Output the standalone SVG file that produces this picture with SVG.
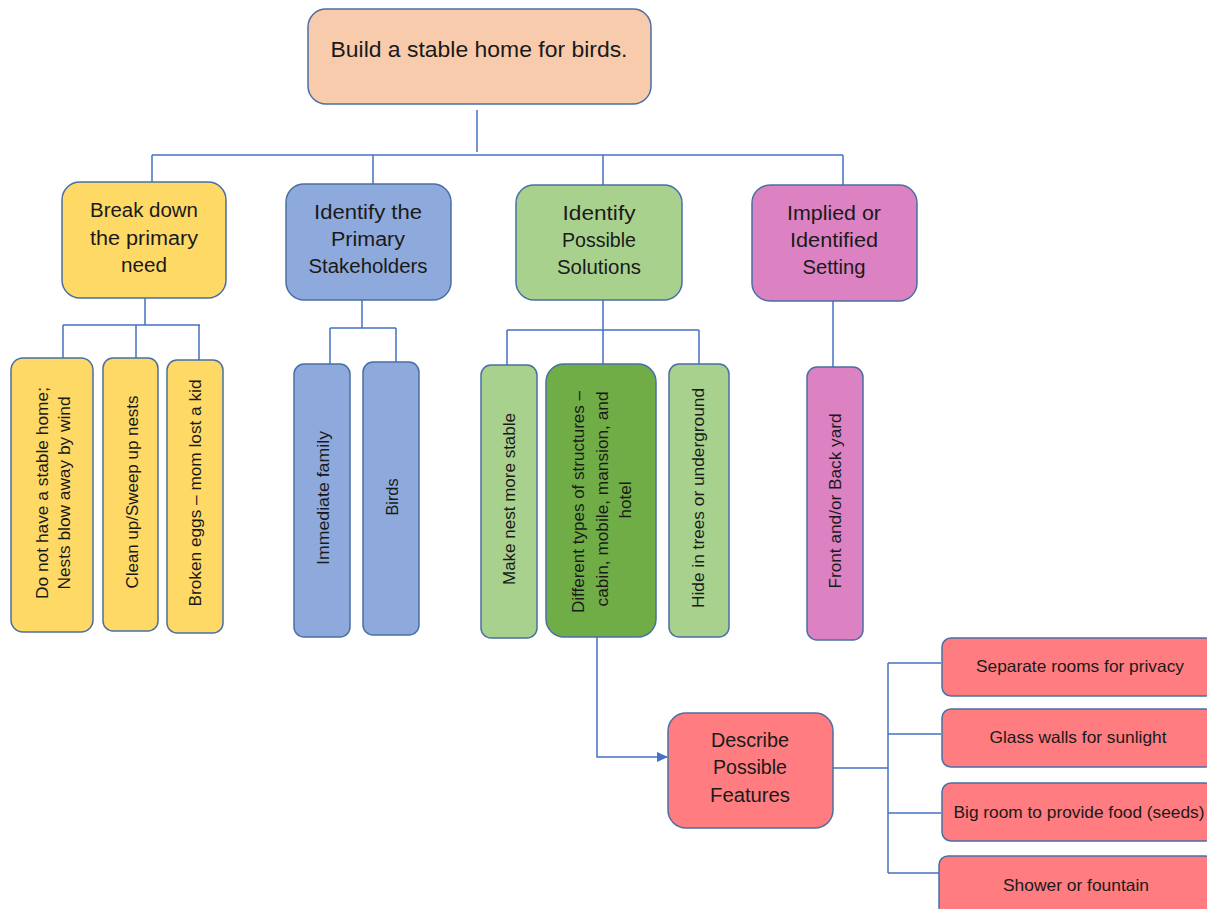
<svg xmlns="http://www.w3.org/2000/svg" width="1207" height="909" viewBox="0 0 1207 909">
<style>
text{font-family:"Liberation Sans",Arial,sans-serif;fill:#1a1a1a;text-anchor:middle}
.box{stroke:#4A6FA5;stroke-width:1.5}
.c{fill:none;stroke:#4472C4;stroke-width:1.5}
.t22{font-size:22px}
.t20{font-size:20px}
.t16{font-size:16.5px}
.t17{font-size:17px}
.r{dominant-baseline:central}
.peach{fill:#F8CBAD}.yel{fill:#FFD966}.blu{fill:#8EA9DB}.lgr{fill:#A9D18E}.dgr{fill:#70AD47}.pnk{fill:#DC82C2}.sal{fill:#FF7C80}
</style>
<defs>
<marker id="arr" markerWidth="11" markerHeight="10" refX="10" refY="5" orient="auto" markerUnits="userSpaceOnUse">
<path d="M0,0 L11,5 L0,10 z" fill="#4472C4"/>
</marker>
</defs>
<g id="connectors">
<path class="c" d="M477 110 V152"/>
<path class="c" d="M152 155 H843"/>
<path class="c" d="M152 155 V182 M373 155 V184 M603 155 V185 M843 155 V185"/>
<path class="c" d="M145 298 V325 M63 325 H200 M63 325 V358 M136 325 V358 M199 325 V360"/>
<path class="c" d="M362 300 V328 M330 328 H396 M330 328 V364 M396 328 V362"/>
<path class="c" d="M603 300 V330 M507 330 H699 M507 330 V365 M603 330 V364 M699 330 V364"/>
<path class="c" d="M833 301 V367"/>
<path class="c" d="M597 637 V757 H667" marker-end="url(#arr)"/>
<path class="c" d="M833 768 H888 M888 663 V873 M888 663 H941 M888 734 H941 M888 813 H941 M888 873 H939"/>
</g>
<g id="root">
<rect class="box peach" x="308" y="9" width="343" height="95" rx="18"/>
<text class="t22" x="479" y="57" textLength="297" lengthAdjust="spacingAndGlyphs">Build a stable home for birds.</text>
</g>
<g id="breakdown">
<rect class="box yel" x="62" y="182" width="164" height="116" rx="18"/>
<text class="t20" x="144" y="217" textLength="108" lengthAdjust="spacingAndGlyphs">Break down</text>
<text class="t20" x="144" y="245" textLength="108" lengthAdjust="spacingAndGlyphs">the primary</text>
<text class="t20" x="144" y="272" textLength="46" lengthAdjust="spacingAndGlyphs">need</text>
</g>
<g id="stakeholders">
<rect class="box blu" x="286" y="184" width="165" height="116" rx="18"/>
<text class="t20" x="368" y="219" textLength="108" lengthAdjust="spacingAndGlyphs">Identify the</text>
<text class="t20" x="368" y="246" textLength="74" lengthAdjust="spacingAndGlyphs">Primary</text>
<text class="t20" x="368" y="273" textLength="119" lengthAdjust="spacingAndGlyphs">Stakeholders</text>
</g>
<g id="solutions">
<rect class="box lgr" x="516" y="185" width="166" height="115" rx="18"/>
<text class="t20" x="599" y="220" textLength="73" lengthAdjust="spacingAndGlyphs">Identify</text>
<text class="t20" x="599" y="247" textLength="74" lengthAdjust="spacingAndGlyphs">Possible</text>
<text class="t20" x="599" y="274" textLength="84" lengthAdjust="spacingAndGlyphs">Solutions</text>
</g>
<g id="setting">
<rect class="box pnk" x="752" y="185" width="165" height="116" rx="18"/>
<text class="t20" x="834" y="220" textLength="94" lengthAdjust="spacingAndGlyphs">Implied or</text>
<text class="t20" x="834" y="247" textLength="88" lengthAdjust="spacingAndGlyphs">Identified</text>
<text class="t20" x="834" y="274" textLength="63" lengthAdjust="spacingAndGlyphs">Setting</text>
</g>
<g id="need1">
<rect class="box yel" x="11" y="358" width="82" height="274" rx="12"/>
<text class="t17 r" transform="translate(42,493) rotate(-90)" textLength="212" lengthAdjust="spacingAndGlyphs">Do not have a stable home;</text>
<text class="t17 r" transform="translate(64,493) rotate(-90)" textLength="193" lengthAdjust="spacingAndGlyphs">Nests blow away by wind</text>
</g>
<g id="need2">
<rect class="box yel" x="103" y="358" width="55" height="273" rx="10"/>
<text class="t17 r" transform="translate(132,492) rotate(-90)" textLength="193" lengthAdjust="spacingAndGlyphs">Clean up/Sweep up nests</text>
</g>
<g id="need3">
<rect class="box yel" x="167" y="360" width="56" height="273" rx="10"/>
<text class="t17 r" transform="translate(195,493) rotate(-90)" textLength="227" lengthAdjust="spacingAndGlyphs">Broken eggs – mom lost a kid</text>
</g>
<g id="family">
<rect class="box blu" x="294" y="364" width="56" height="273" rx="10"/>
<text class="t17 r" transform="translate(323,498) rotate(-90)" textLength="134" lengthAdjust="spacingAndGlyphs">Immediate family</text>
</g>
<g id="birds">
<rect class="box blu" x="363" y="362" width="56" height="273" rx="10"/>
<text class="t17 r" transform="translate(392,497) rotate(-90)" textLength="37" lengthAdjust="spacingAndGlyphs">Birds</text>
</g>
<g id="sol1">
<rect class="box lgr" x="481" y="365" width="56" height="273" rx="10"/>
<text class="t17 r" transform="translate(509,499) rotate(-90)" textLength="172" lengthAdjust="spacingAndGlyphs">Make nest more stable</text>
</g>
<g id="sol2">
<rect class="box dgr" x="546" y="364" width="110" height="273" rx="18"/>
<text class="t17 r" transform="translate(578,502) rotate(-90)" textLength="222" lengthAdjust="spacingAndGlyphs">Different types of structures –</text>
<text class="t17 r" transform="translate(602,499) rotate(-90)" textLength="215" lengthAdjust="spacingAndGlyphs">cabin, mobile, mansion, and</text>
<text class="t17 r" transform="translate(625,500) rotate(-90)" textLength="37" lengthAdjust="spacingAndGlyphs">hotel</text>
</g>
<g id="sol3">
<rect class="box lgr" x="669" y="364" width="60" height="273" rx="10"/>
<text class="t17 r" transform="translate(698,498) rotate(-90)" textLength="220" lengthAdjust="spacingAndGlyphs">Hide in trees or underground</text>
</g>
<g id="yard">
<rect class="box pnk" x="807" y="367" width="56" height="273" rx="10"/>
<text class="t17 r" transform="translate(835,501) rotate(-90)" textLength="175" lengthAdjust="spacingAndGlyphs">Front and/or Back yard</text>
</g>
<g id="features">
<rect class="box sal" x="668" y="713" width="165" height="115" rx="18"/>
<text class="t20" x="750" y="747" textLength="78" lengthAdjust="spacingAndGlyphs">Describe</text>
<text class="t20" x="750" y="774" textLength="74" lengthAdjust="spacingAndGlyphs">Possible</text>
<text class="t20" x="750" y="802" textLength="80" lengthAdjust="spacingAndGlyphs">Features</text>
</g>
<g id="f1">
<rect class="box sal" x="942" y="638" width="272" height="58" rx="9"/>
<text class="t16" x="1080" y="672" textLength="208" lengthAdjust="spacingAndGlyphs">Separate rooms for privacy</text>
</g>
<g id="f2">
<rect class="box sal" x="942" y="709" width="272" height="58" rx="9"/>
<text class="t16" x="1078" y="743" textLength="177" lengthAdjust="spacingAndGlyphs">Glass walls for sunlight</text>
</g>
<g id="f3">
<rect class="box sal" x="942" y="783" width="272" height="58" rx="9"/>
<text class="t16" x="1079" y="818" textLength="251" lengthAdjust="spacingAndGlyphs">Big room to provide food (seeds)</text>
</g>
<g id="f4">
<rect class="box sal" x="939" y="856" width="275" height="60" rx="9"/>
<text class="t16" x="1076" y="891" textLength="146" lengthAdjust="spacingAndGlyphs">Shower or fountain</text>
</g>
</svg>
